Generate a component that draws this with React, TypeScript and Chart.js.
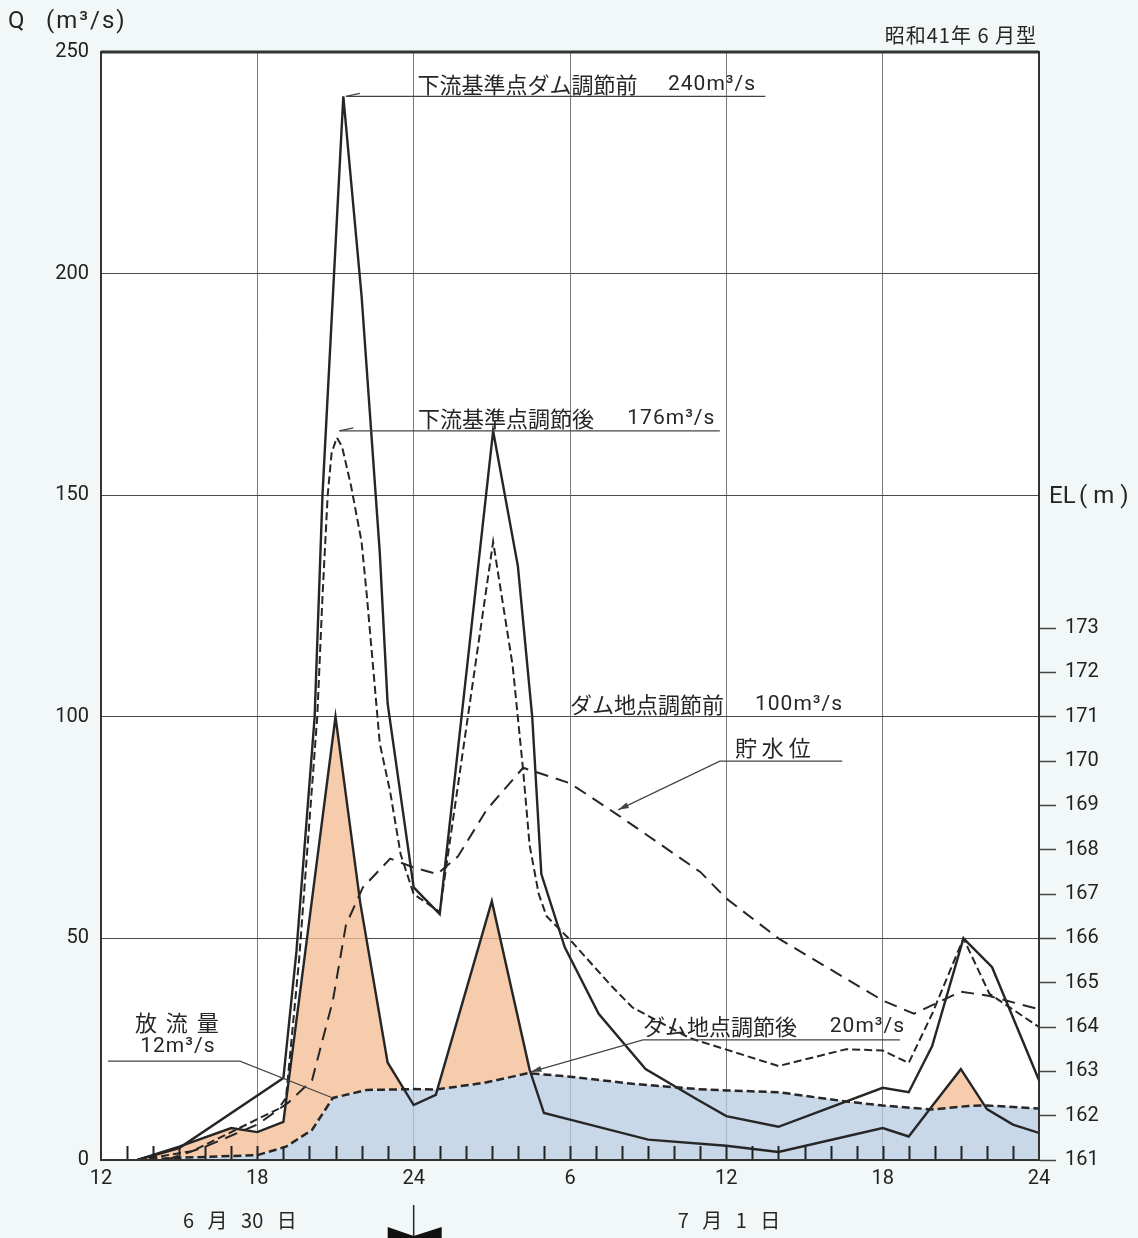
import React, { useEffect, useRef } from "react";
import { Chart, registerables } from "chart.js";

Chart.register(...registerables);

// ---- axis ticks ----
const xTickValues = [12, 18, 24, 30, 36, 42, 48];
const xTickLabels = ["12", "18", "24", "6", "12", "18", "24"];
const qTickValues = [0, 50, 100, 150, 200, 250];
const elTickValues = [161, 162, 163, 164, 165, 166, 167, 168, 169, 170, 171, 172, 173];

// ---- 下流基準点ダム調節前 (solid) ----
const downBeforeHours = [13.4, 15, 19, 19.5, 20.2, 20.5, 21.3, 22.0, 22.7, 23.0, 24, 25, 27.05, 28, 28.55, 28.9, 29.8, 31.1, 32.9, 34.9, 36, 38, 42, 43, 43.9, 45.1, 46.2, 48];
const downBeforeQ = [0, 2.7, 18.5, 47, 100, 150, 240, 195, 137, 103, 61.5, 55.5, 164.5, 134, 100, 64.5, 48, 33, 20.5, 13.6, 9.9, 7.5, 16.3, 15.3, 25.7, 50, 43.5, 18];

// ---- 下流基準点調節後 (dashed) ----
const downAfterHours = [13.4, 15.5, 18.8, 19.1, 19.6, 20.3, 20.5, 20.7, 20.85, 21.05, 21.25, 21.6, 22.0, 22.2, 22.7, 23.1, 23.5, 24, 25, 27.05, 27.8, 28.2, 28.45, 28.8, 29.1, 30, 31.6, 32.4, 34.6, 38, 40.6, 42, 43, 43.9, 45.1, 46.1, 48];
const downAfterQ = [0, 2, 11.5, 14, 45, 100, 127, 150, 159.5, 163, 161, 152, 139.5, 127.5, 94, 83, 69, 60, 56, 139.5, 111.5, 88, 71, 60, 55, 49.7, 39.2, 34.4, 27.5, 21.2, 25, 24.7, 21.9, 33, 50, 37.5, 30];

// ---- ダム地点調節前 (inflow, solid) ----
const inflowHours = [13.4, 15, 17, 18, 19, 21, 21.95, 23, 24, 24.85, 27.0, 28.45, 29.0, 30, 33, 36, 38, 42, 43, 43.9, 45, 46, 47, 48];
const inflowQ = [0, 3, 7.2, 6.3, 8.6, 100, 58, 22, 12.4, 14.7, 58.4, 20.4, 10.6, 9.1, 4.6, 3.2, 1.8, 7.2, 5.3, 12.2, 20.5, 11.5, 8, 6.1];

// ---- ダム地点調節後 / 放流量 (outflow, dashed) ----
const outflowHours = [13.4, 15, 18, 19.1, 20.1, 20.9, 22.2, 24, 24.85, 26.7, 28.4, 30, 32.4, 34.9, 36, 38, 40.6, 42, 43.9, 45.3, 46, 48];
const outflowQ = [0, 0.5, 1.1, 3, 6.8, 14, 15.8, 16, 15.9, 17.4, 19.6, 18.8, 17.2, 16, 15.7, 15.3, 13.2, 12.3, 11.4, 12.2, 12.3, 11.6];

// ---- 貯水位 (EL m, long dashed) ----
const levelHours = [14.5, 16, 18, 19.2, 20.1, 20.9, 21.4, 22.05, 23.1, 24, 24.9, 25.7, 26.8, 28.2, 30, 31.8, 35, 36, 38, 40, 42, 43.2, 45, 46.1, 48];
const levelEL = [161.0, 161.3, 161.8, 162.3, 162.8, 164.6, 166.3, 167.15, 167.8, 167.6, 167.45, 167.85, 168.9, 169.85, 169.5, 168.8, 167.5, 166.9, 166.0, 165.3, 164.6, 164.3, 164.8, 164.7, 164.4];

const pts = (xs: number[], ys: number[]) => xs.map((x, i) => ({ x, y: ys[i] }));

const INK = "#262626";
const CJK = '"Noto Sans CJK JP", "Noto Sans CJK SC", sans-serif';
const NUM = 'Roboto, "Liberation Sans", sans-serif';

const decorPlugin = {
  id: "decor",
  beforeDraw(chart: any) {
    const { ctx, chartArea: a, width, height } = chart;
    ctx.save();
    ctx.fillStyle = "#f2f8f8";
    ctx.fillRect(0, 0, width, height);
    ctx.fillStyle = "#ffffff";
    ctx.fillRect(a.left, a.top, a.right - a.left, a.bottom - a.top);
    ctx.restore();
  },
  afterDraw(chart: any) {
    const { ctx, chartArea: a } = chart;
    const xs = chart.scales.x;
    const ys = chart.scales.y;
    const X = (h: number) => xs.getPixelForValue(h);
    const Y = (q: number) => ys.getPixelForValue(q);
    ctx.save();
    // hourly tick marks inside bottom
    ctx.strokeStyle = "#222";
    ctx.lineWidth = 2;
    ctx.setLineDash([]);
    for (let h = 13; h < 48; h++) {
      const px = Math.round(X(h)) + 0.5;
      ctx.beginPath();
      ctx.moveTo(px, a.bottom);
      ctx.lineTo(px, a.bottom - 14);
      ctx.stroke();
    }
    // frame
    ctx.lineWidth = 2;
    ctx.strokeStyle = "#333";
    ctx.strokeRect(a.left, a.top, a.right - a.left, a.bottom - a.top);
    ctx.lineWidth = 3;
    ctx.beginPath();
    ctx.moveTo(a.left, a.top);
    ctx.lineTo(a.right, a.top);
    ctx.stroke();

    const txt = (s: string, x: number, y: number, font: string, align: CanvasTextAlign = "left", spacing = "0px") => {
      ctx.font = font;
      ctx.textAlign = align;
      ctx.textBaseline = "middle";
      ctx.fillStyle = INK;
      (ctx as any).letterSpacing = spacing;
      ctx.fillText(s, x, y);
      (ctx as any).letterSpacing = "0px";
    };
    const line = (p: number[][], w = 1.2, color = "#444") => {
      ctx.strokeStyle = color;
      ctx.lineWidth = w;
      ctx.beginPath();
      ctx.moveTo(p[0][0], p[0][1]);
      for (let i = 1; i < p.length; i++) ctx.lineTo(p[i][0], p[i][1]);
      ctx.stroke();
    };
    const arrowHead = (fx: number, fy: number, tx: number, ty: number) => {
      const ang = Math.atan2(ty - fy, tx - fx);
      const L = 11;
      ctx.fillStyle = "#444";
      ctx.beginPath();
      ctx.moveTo(tx, ty);
      ctx.lineTo(tx - L * Math.cos(ang - 0.28), ty - L * Math.sin(ang - 0.28));
      ctx.lineTo(tx - L * Math.cos(ang + 0.28), ty - L * Math.sin(ang + 0.28));
      ctx.closePath();
      ctx.fill();
    };
    const cjk = `22px ${CJK}`;
    const num = `21px ${NUM}`;

    // 1: 下流基準点ダム調節前 240
    {
      const y = Y(240);
      line([[X(21.4), y], [X(37.5), y]]);
      line([[X(21.4), y], [X(21.4) + 14, y - 3]], 1.2);
      txt("下流基準点ダム調節前", X(24.15), y - 12, cjk);
      txt("240m³/s", X(33.76), y - 12, num, "left", "1px");
    }
    // 2: 下流基準点調節後 176
    {
      const y = Y(164.5);
      line([[X(21.15), y], [X(35.75), y]]);
      line([[X(21.15), y], [X(21.15) + 14, y - 3]], 1.2);
      txt("下流基準点調節後", X(24.17), y - 12, cjk);
      txt("176m³/s", X(32.2), y - 12, num, "left", "1px");
    }
    // 3: ダム地点調節前 100
    {
      const y = Y(100);
      txt("ダム地点調節前", X(30.0), y - 12, cjk);
      txt("100m³/s", X(37.1), y - 12, num, "left", "1px");
    }
    // 4: 貯水位
    {
      const y = Y(90);
      line([[X(31.85), Y(79)], [X(35.75), y], [X(40.45), y]]);
      arrowHead(X(35.75), y, X(31.85), Y(79));
      txt("貯 水 位", X(36.33), y - 13, cjk);
    }
    // 5: ダム地点調節後 20
    {
      const y = Y(27.1);
      line([[X(28.5), Y(19.9)], [X(32.8), y], [X(42.66), y]]);
      arrowHead(X(32.8), y, X(28.5), Y(19.9));
      txt("ダム地点調節後", X(32.8), y - 13, cjk);
      txt("20m³/s", X(39.97), y - 13, num, "left", "1px");
    }
    // 6: 放流量 12
    {
      const y = Y(22.3);
      line([[X(12.27), y], [X(17.33), y], [X(20.9), Y(14)]]);
      txt("放 流 量", X(14.95), y - 39, cjk, "center", "2px");
      txt("12m³/s", X(14.95), y - 14, num, "center", "1px");
    }

    // titles
    txt("Q", 8, 22, `24px ${NUM}`);
    txt("(m³/s)", 46, 22, `24px ${NUM}`, "left", "2px");
    txt("昭和41年 6 月型", a.right - 2, 35, `20px ${CJK}`, "right", "1px");
    txt("EL", a.right + 10, Y(150) + 2, `24px ${NUM}`);
    txt("( m )", a.right + 40, Y(150) + 2, `24px ${NUM}`);
    txt("6   月   30   日", X(17.33), 1220, `20px ${CJK}`, "center");
    txt("7   月   1   日", X(36.1), 1220, `20px ${CJK}`, "center");

    // marker below 24
    const mx = X(24);
    line([[mx, a.bottom + 45], [mx, 1238]], 1.5, INK);
    ctx.fillStyle = "#111";
    ctx.beginPath();
    ctx.moveTo(mx - 26, 1227);
    ctx.lineTo(mx, 1236);
    ctx.lineTo(mx, 1238);
    ctx.lineTo(mx - 26, 1238);
    ctx.closePath();
    ctx.fill();
    ctx.beginPath();
    ctx.moveTo(mx + 28, 1227);
    ctx.lineTo(mx, 1236);
    ctx.lineTo(mx, 1238);
    ctx.lineTo(mx + 28, 1238);
    ctx.closePath();
    ctx.fill();
    ctx.restore();
  },
};

export default function App() {
  const ref = useRef<HTMLCanvasElement | null>(null);
  useEffect(() => {
    document.body.style.margin = "0";
    document.body.style.background = "#f2f8f8";
    const canvas = ref.current;
    if (!canvas) return;
    const orange = "rgba(243,190,150,0.78)";
    const blue = "rgba(183,204,226,0.76)";
    const chart = new Chart(canvas, {
      type: "line",
      data: {
        datasets: [
          {
            label: "放流量",
            data: pts(outflowHours, outflowQ),
            borderColor: INK,
            borderWidth: 2.5,
            borderDash: [8, 4],
            pointRadius: 0,
            tension: 0,
            fill: { target: "origin", above: blue, below: blue },
            order: 5,
            yAxisID: "y",
          },
          {
            label: "ダム地点調節前",
            data: pts(inflowHours, inflowQ),
            borderColor: INK,
            borderWidth: 2.4,
            pointRadius: 0,
            tension: 0,
            fill: { target: 0, above: orange, below: "rgba(0,0,0,0)" },
            order: 4,
            yAxisID: "y",
          },
          {
            label: "下流基準点ダム調節前",
            data: pts(downBeforeHours, downBeforeQ),
            borderColor: INK,
            borderWidth: 2.4,
            pointRadius: 0,
            tension: 0,
            fill: false,
            order: 3,
            yAxisID: "y",
          },
          {
            label: "下流基準点調節後",
            data: pts(downAfterHours, downAfterQ),
            borderColor: INK,
            borderWidth: 2,
            borderDash: [8, 4],
            pointRadius: 0,
            tension: 0,
            fill: false,
            order: 2,
            yAxisID: "y",
          },
          {
            label: "貯水位",
            data: pts(levelHours, levelEL),
            borderColor: INK,
            borderWidth: 2,
            borderDash: [13, 8],
            pointRadius: 0,
            tension: 0,
            fill: false,
            order: 1,
            yAxisID: "y2",
          },
        ],
      },
      options: {
        responsive: false,
        maintainAspectRatio: false,
        animation: false,
        devicePixelRatio: 1,
        layout: { padding: { top: 52, left: 0, right: 0, bottom: 0 } },
        plugins: {
          legend: { display: false },
          tooltip: { enabled: false },
          filler: { drawTime: "beforeDatasetsDraw" },
        } as any,
        scales: {
          x: {
            type: "linear",
            min: 12,
            max: 48,
            afterBuildTicks: (axis: any) => {
              axis.ticks = xTickValues.map((v) => ({ value: v }));
            },
            afterFit: (s: any) => {
              s.height = 78;
            },
            ticks: {
              callback: (v: any) => {
                const i = xTickValues.indexOf(Number(v));
                return i >= 0 ? xTickLabels[i] : "";
              },
              font: { family: "Roboto", size: 20 },
              color: "#222",
              padding: 7,
              maxRotation: 0,
              autoSkip: false,
            },
            grid: { color: "#7a7a7a", lineWidth: 1, drawTicks: false },
            border: { display: true, color: "#333", width: 2 },
          },
          y: {
            type: "linear",
            position: "left",
            min: 0,
            max: 250,
            afterBuildTicks: (axis: any) => {
              axis.ticks = qTickValues.map((v) => ({ value: v }));
            },
            afterFit: (s: any) => {
              s.width = 101;
            },
            ticks: {
              font: { family: "Roboto", size: 20 },
              color: "#222",
              padding: 12,
            },
            grid: { color: "#4a4a4a", lineWidth: 1, drawTicks: false },
            border: { display: true, color: "#333", width: 2 },
          },
          y2: {
            type: "linear",
            position: "right",
            min: 161,
            max: 186,
            afterBuildTicks: (axis: any) => {
              axis.ticks = elTickValues.map((v) => ({ value: v }));
            },
            afterFit: (s: any) => {
              s.width = 99;
            },
            ticks: {
              font: { family: "Roboto", size: 20 },
              color: "#222",
              padding: 9,
            },
            grid: {
              drawOnChartArea: false,
              drawTicks: true,
              tickLength: 17,
              tickColor: "#444",
              tickWidth: 1.5,
            },
            border: { display: true, color: "#333", width: 2 },
          },
        },
      } as any,
      plugins: [decorPlugin],
    });
    return () => chart.destroy();
  }, []);
  return (
    <div style={{ width: 1138, height: 1238, background: "#f2f8f8" }}>
      <canvas ref={ref} width={1138} height={1238} style={{ display: "block", width: 1138, height: 1238 }} />
    </div>
  );
}
